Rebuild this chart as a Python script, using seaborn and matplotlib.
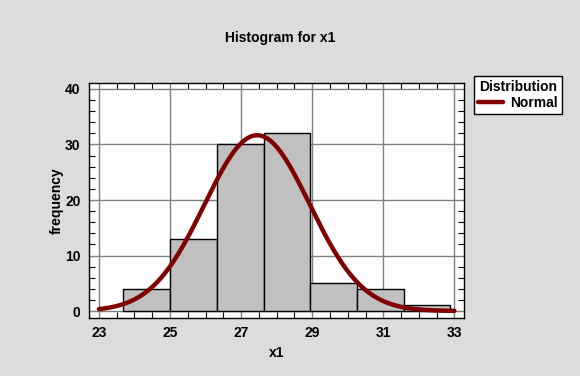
import numpy as np
import pandas as pd
import matplotlib
matplotlib.use("Agg")
import matplotlib.pyplot as plt
import seaborn as sns
from matplotlib.ticker import MultipleLocator

# Data
bin_edges = [23.68, 25.0, 26.31, 27.63, 28.94, 30.26, 31.58, 32.89]
counts = [4, 13, 30, 32, 5, 4, 1]
norm_mean = 27.45
norm_sd = 1.48
x_ticks = [23, 25, 27, 29, 31, 33]
y_ticks = [0, 10, 20, 30, 40]

sns.set_theme(style="white")
plt.rcParams['font.family'] = ['Liberation Sans', 'DejaVu Sans']
plt.rcParams['font.weight'] = 'bold'
plt.rcParams['text.color'] = 'black'
plt.rcParams['axes.labelcolor'] = 'black'
plt.rcParams['xtick.color'] = 'black'
plt.rcParams['ytick.color'] = 'black'

bg = "#dcdcdc"
fig = plt.figure(figsize=(5.8, 3.76), dpi=100, facecolor=bg)
ax = fig.add_axes([89/580, 1-318/376, (464-89)/580, (318-83)/376])
ax.set_facecolor("white")

mids = [(bin_edges[i] + bin_edges[i+1]) / 2 for i in range(len(counts))]
df = pd.DataFrame({"x": mids, "count": counts})
sns.histplot(data=df, x="x", weights="count", bins=bin_edges, ax=ax,
             color="#c0c0c0", edgecolor="black", linewidth=1, alpha=1, zorder=2)

n = sum(counts)
width = bin_edges[1] - bin_edges[0]
xs = np.linspace(23, 33, 300)
ys = n * width / (norm_sd * np.sqrt(2 * np.pi)) * np.exp(-0.5 * ((xs - norm_mean) / norm_sd) ** 2)
sns.lineplot(x=xs, y=ys, ax=ax, color="#800000", linewidth=3.2, label="Normal", legend=False, zorder=3)

ax.set_xlim(22.72, 33.27)
ax.set_ylim(-1.26, 41.08)
ax.set_xticks(x_ticks)
ax.set_yticks(y_ticks)
ax.xaxis.set_minor_locator(MultipleLocator(0.5))
ax.yaxis.set_minor_locator(MultipleLocator(2))
ax.grid(True, which="major", color="#808080", linewidth=1, zorder=0)
ax.set_axisbelow(True)
ax.tick_params(which="both", direction="in", top=True, right=True, bottom=True, left=True, color="black")
ax.tick_params(which="major", length=0, labelsize=10, pad=6, labelcolor="black")
ax.tick_params(which="minor", length=4, width=0.8)
for lab in ax.get_xticklabels() + ax.get_yticklabels():
    lab.set_fontweight("bold")
for s in ax.spines.values():
    s.set_color("black")
    s.set_linewidth(1)

ax.set_xlabel("x1", fontsize=10, fontweight="bold", labelpad=4, color="black")
ax.set_ylabel("frequency", fontsize=10, fontweight="bold", labelpad=1, color="black")
fig.text(280/580, 1-38/376, "Histogram for x1", ha="center", va="center", fontsize=10,
         fontweight="bold", color="black")

handles, labels = ax.get_legend_handles_labels()
leg = fig.legend(handles, labels, title="Distribution", loc="upper left",
                 bbox_to_anchor=(474/580, 1-76/376), frameon=True, fancybox=False,
                 edgecolor="black", facecolor="white", fontsize=10, title_fontsize=10,
                 handlelength=1.8, borderpad=0.3, labelspacing=0.1, handletextpad=0.5,
                 borderaxespad=0, framealpha=1)
leg.get_title().set_fontweight("bold")
leg.get_title().set_color("black")
leg.get_frame().set_linewidth(1)
for t in leg.get_texts():
    t.set_fontweight("bold")
    t.set_color("black")

fig.savefig("out.png", dpi=100, facecolor=bg)
